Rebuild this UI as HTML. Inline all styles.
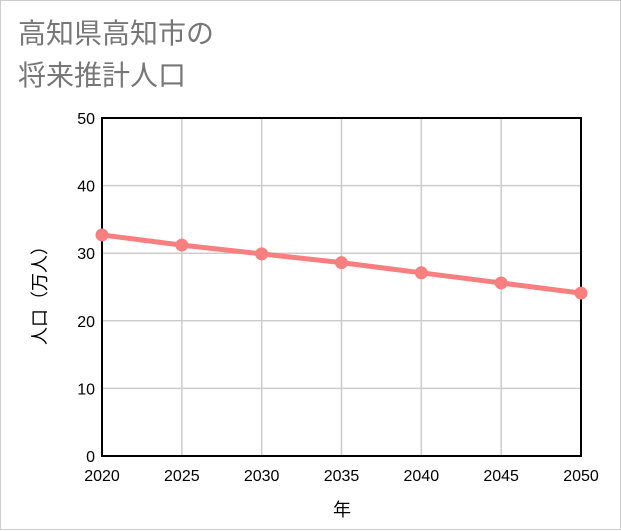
<!DOCTYPE html>
<html><head><meta charset="utf-8"><style>
body{margin:0;background:#fff;}
#wrap{position:relative;width:619px;height:528px;border:1px solid #ccc;background:#fff;font-family:"Liberation Sans","Noto Sans CJK JP",sans-serif;}
#title{position:absolute;left:17px;top:12px;font-size:28px;line-height:42px;color:#777;}
svg{position:absolute;left:0;top:0;}
</style></head><body>
<div id="wrap">
<div id="title">高知県高知市の<br>将来推計人口</div>
<svg id="chart" width="621" height="530"></svg>
</div>
<script>
const years=[2020,2025,2030,2035,2040,2045,2050];
const population=[32.7,31.2,29.9,28.6,27.1,25.6,24.1];
const yTicks=[0,10,20,30,40,50];
const NS="http://www.w3.org/2000/svg";
const svg=document.getElementById('chart');
const L=101,R=580,T=117,B=455;
const xs=v=>L+(v-2020)/30*(R-L);
const ys=v=>B-v/50*(B-T);
function mk(t,a,p){const e=document.createElementNS(NS,t);for(const k in a)e.setAttribute(k,a[k]);(p||svg).appendChild(e);return e;}
years.forEach(y=>{
 const g=mk('line',{x1:xs(y),x2:xs(y),y1:T,y2:B,stroke:'#ccc','stroke-width':1.5});
 
 
 const t=mk('text',{x:xs(y),y:480,'text-anchor':'middle','font-size':16,fill:'#000','font-family':'Liberation Sans, sans-serif'});
 t.textContent=y;
 
 
});
yTicks.forEach(v=>{
 const g=mk('line',{x1:L,x2:R,y1:ys(v),y2:ys(v),stroke:'#ccc','stroke-width':1.5});
 
 
 const t=mk('text',{x:94,y:ys(v)+6,'text-anchor':'end','font-size':16,fill:'#000','font-family':'Liberation Sans, sans-serif'});
 t.textContent=v;
 
 
});
const fr=mk('rect',{x:L,y:T,width:R-L,height:B-T,fill:'none',stroke:'#000','stroke-width':2});


const line=mk('polyline',{points:years.map((y,i)=>xs(y)+','+ys(population[i])).join(' '),fill:'none',stroke:'#f77f7f','stroke-width':5});


years.forEach((y,i)=>{
 const c=mk('circle',{cx:xs(y),cy:ys(population[i]),r:6.5,fill:'#f77f7f'});
 
 
});
const xt=mk('text',{x:341,y:515,'text-anchor':'middle','font-size':18,fill:'#000','font-family':'Noto Sans CJK JP, sans-serif'});
xt.textContent='年';


const yt=mk('text',{x:0,y:0,'text-anchor':'middle','font-size':18,fill:'#000','font-family':'Noto Sans CJK JP, sans-serif',transform:'translate(45,290) rotate(-90)'});
yt.textContent='人口（万人）';


</script>
</body></html>
